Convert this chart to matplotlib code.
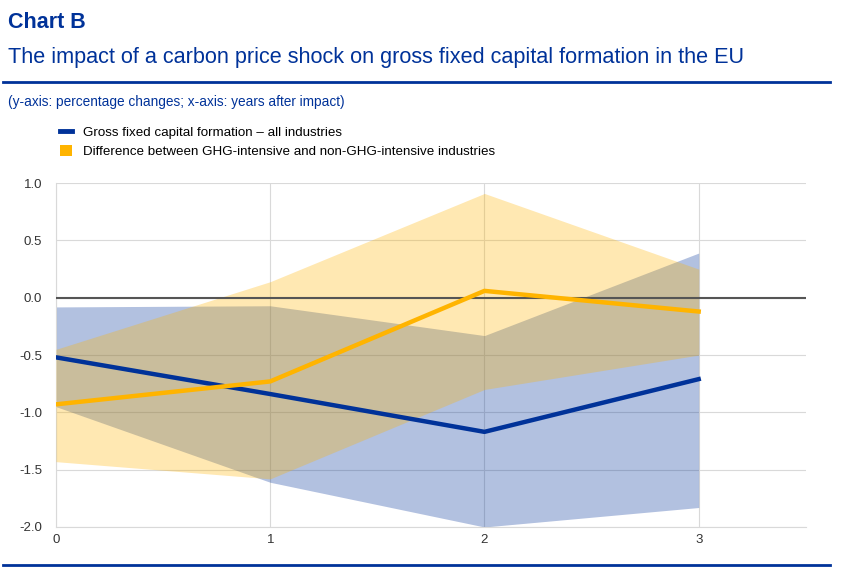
import matplotlib.pyplot as plt
from matplotlib.lines import Line2D
from matplotlib.patches import Patch

plt.rcParams['font.family'] = ['Liberation Sans', 'DejaVu Sans']

ECB_BLUE = '#003299'
ECB_YELLOW = '#ffb400'

years = [0, 1, 2, 3]

# gross fixed capital formation, all industries
gfcf = [-0.52, -0.84, -1.17, -0.71]
gfcf_lo = [-0.95, -1.61, -2.00, -1.83]
gfcf_hi = [-0.08, -0.07, -0.33, 0.39]

# difference GHG-intensive vs non-GHG-intensive
diff = [-0.93, -0.73, 0.06, -0.12]
diff_lo = [-1.43, -1.58, -0.80, -0.50]
diff_hi = [-0.45, 0.14, 0.91, 0.25]

yticks = [1.0, 0.5, 0.0, -0.5, -1.0, -1.5, -2.0]

fig = plt.figure(figsize=(8.42, 5.75), dpi=100)
ax = fig.add_axes([0.0665, 0.0835, 0.8905, 0.598])

ax.fill_between(years, gfcf_lo, gfcf_hi, color=ECB_BLUE, alpha=0.3, lw=0, zorder=2)
ax.fill_between(years, diff_lo, diff_hi, color=ECB_YELLOW, alpha=0.3, lw=0, zorder=3)
ax.axhline(0, color='#555555', lw=1.5, zorder=4)
ax.plot(years, gfcf, color=ECB_BLUE, lw=3.2, zorder=5)
ax.plot(years, diff, color=ECB_YELLOW, lw=3.2, zorder=6)

ax.set_xlim(0, 3.5)
ax.set_ylim(-2.0, 1.0)
ax.set_xticks(years)
ax.set_yticks(yticks)
ax.set_yticklabels([f'{v:.1f}' for v in yticks])
ax.grid(True, color='#d9d9d9', lw=0.8, zorder=0)
ax.set_axisbelow(True)
for s in ['top', 'right']:
    ax.spines[s].set_visible(False)
for s in ['left', 'bottom']:
    ax.spines[s].set_color('#d9d9d9')
ax.tick_params(length=0, labelsize=9.5, colors='#333333', pad=5)
ax.tick_params(axis='y', pad=10)

fig.text(0.0095, 0.96, 'Chart B', fontsize=15.5, fontweight='bold', color=ECB_BLUE, va='center')
fig.text(0.0095, 0.9, 'The impact of a carbon price shock on gross fixed capital formation in the EU',
         fontsize=15.6, color=ECB_BLUE, va='center')
fig.add_artist(Line2D([0.004, 0.986], [0.857, 0.857], color=ECB_BLUE, lw=2))
fig.add_artist(Line2D([0.004, 0.986], [0.017, 0.017], color=ECB_BLUE, lw=2))
fig.text(0.0095, 0.822, '(y-axis: percentage changes; x-axis: years after impact)',
         fontsize=9.8, color=ECB_BLUE, va='center')

handles = [Line2D([], [], color=ECB_BLUE, lw=3.5),
           Patch(facecolor=ECB_YELLOW, edgecolor='none')]
labels = ['Gross fixed capital formation \u2013 all industries',
          'Difference between GHG-intensive and non-GHG-intensive industries']
fig.legend(handles, labels, loc='upper left', bbox_to_anchor=(0.065, 0.79),
           frameon=False, fontsize=9.6, handlelength=0.9, handleheight=0.9,
           handletextpad=0.8, labelspacing=0.4, borderaxespad=0)

fig.savefig('out.png', dpi=100)
